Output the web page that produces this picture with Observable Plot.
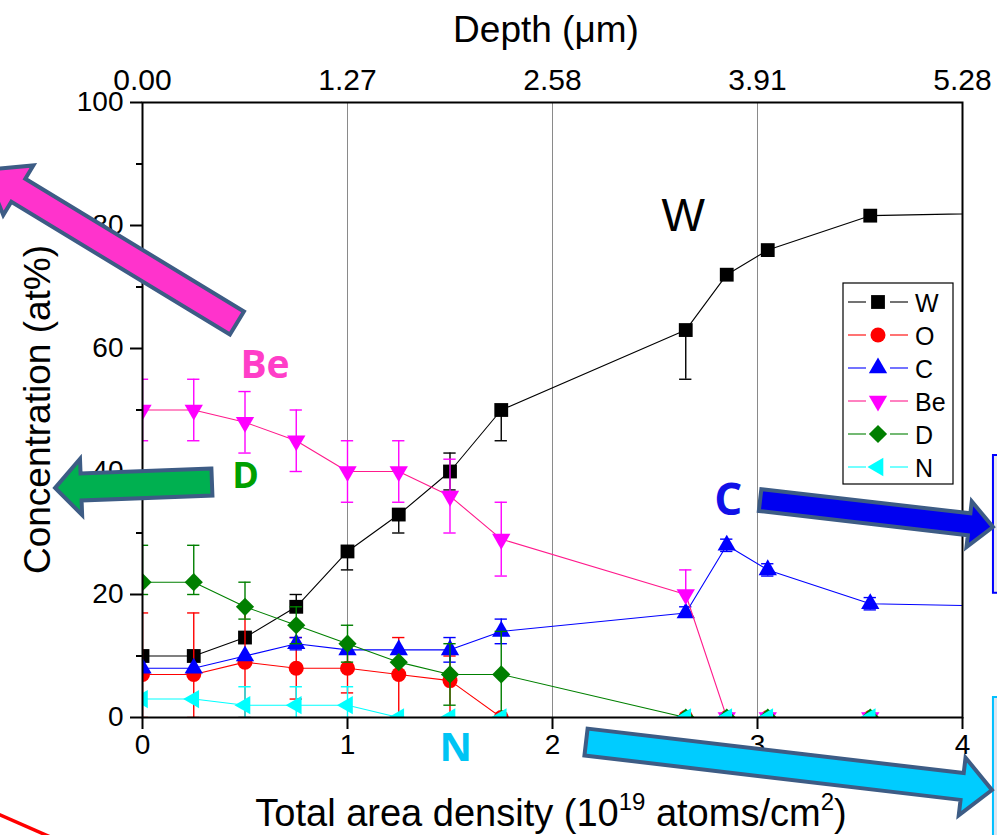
<!DOCTYPE html>
<html>
<head>
<meta charset="utf-8">
<script src="https://cdn.jsdelivr.net/npm/d3@7"></script>
<script src="https://cdn.jsdelivr.net/npm/@observablehq/plot@0.6"></script>
<style>
  html, body { margin: 0; padding: 0; background: white; }
  #chart { position: relative; width: 997px; height: 835px; overflow: hidden; }
</style>
</head>
<body>
<div id="chart"></div>
<script>
// ---- data ----
const density = [0, 0.25, 0.5, 0.75, 1.0, 1.25, 1.5, 1.75, 2.65, 2.85, 3.05, 3.55, 4.5];
const W  = [10, 10, 13, 18, 27, 33, 40, 50, 63, 72, 76, 81.6, 82.2];
const O  = [7, 7, 9, 8, 8, 7, 6, 0, 0, 0, 0, 0, 0];
const C  = [8, 8, 10, 12, 11, 11, 11, 14, 17, 28, 24, 18.5, 17.9];
const Be = [50, 50, 48, 45, 40, 40, 36, 29, 20, 0, 0, 0, 0];
const D  = [22, 22, 18, 15, 12, 9, 7, 7, 0, 0, 0, 0, 0];
const N  = [3, 3, 2, 2, 2, 0, 0, 0, 0, 0, 0, 0, 0];

// error bar ends (null = no bar on that side)
const W_lo  = [null, null, null, null, 24, 30, 37, 45, 55, null, null, null, null];
const W_hi  = [null, null, null, 20, null, null, 43, null, null, null, null, null, null];
const O_lo  = [0, 0, 0, 3, 4, 0, 0, null, null, null, null, null, null];
const O_hi  = [17, 17, 18, 13, 12, 13, 10, null, null, null, null, null, null];
const C_lo  = [null, null, null, 11, null, null, 9, 12, null, 27, 23, 17.5, null];
const C_hi  = [null, null, null, 13, null, null, 13, 16, 18, 29, 25, 19.5, null];
const Be_lo = [45, 45, 43, 40, 35, 35, 30, 23, null, null, null, null, null];
const Be_hi = [55, 55, 53, 50, 45, 45, 42, 35, 24, null, null, null, null];
const D_lo  = [20, 20, 16, 12, 9, null, 2, 0, null, null, null, null, null];
const D_hi  = [28, 28, 22, 18, 15, null, 12, 14, null, null, null, null, null];
const N_lo  = [null, null, 0, 0, 0, null, null, null, null, null, null, null, null];
const N_hi  = [null, null, 5, 5, 5, null, null, null, null, null, null, null, null];

const seriesNames = ["W", "O", "C", "Be", "D", "N"];
const seriesValues = [W, O, C, Be, D, N];
const seriesLo = [W_lo, O_lo, C_lo, Be_lo, D_lo, N_lo];
const seriesHi = [W_hi, O_hi, C_hi, Be_hi, D_hi, N_hi];
const lineColors   = ["#000000", "#FF0000", "#0000FF", "#FF1A8C", "#008000", "#00FFFF"];
const markerColors = ["#000000", "#FF0000", "#0000FF", "#FF00FF", "#007F00", "#00FFFF"];
const symbols  = ["square", "circle", "triangle", "triangle", "diamond2", "triangle"];
const rotates  = [0, 0, 0, 180, 0, -90];
const radii    = [7.8, 7.5, 6.8, 6.8, 8.2, 6.8];

const xTicks = [0, 1, 2, 3, 4];
const depthLabels = ["0.00", "1.27", "2.58", "3.91", "5.28"];
const yTicks = [0, 20, 40, 60, 80, 100];
const yMinor = [10, 30, 50, 70, 90];
const gridLines = [1, 2, 3];

// annotations (data units)
const annotLabels = [
  {text: "W",  x: 2.64, y: 81.6, color: "#000000", size: 46, weight: 400, family: "Liberation Sans, Arial, sans-serif"},
  {text: "Be", x: 0.60, y: 57.6, color: "#FF3EC8", size: 39, weight: 700, family: "Open Sans, sans-serif"},
  {text: "D",  x: 0.505, y: 39.4, color: "#00A000", size: 36, weight: 700, family: "Open Sans, sans-serif"},
  {text: "C",  x: 2.86, y: 35.6, color: "#1010E8", size: 44, weight: 700, family: "Open Sans, sans-serif"},
  {text: "N",  x: 1.53, y: -4.6, color: "#00C4F4", size: 40, weight: 700, family: "Open Sans, sans-serif"}
];
const arrows = [
  {x1: 0.463, y1: 64.07, x2: -0.766, y2: 88.94, w: 13.5, hw: 29, hl: 39, fill: "#FF33CC"},
  {x1: 0.341, y1: 38.21, x2: -0.424, y2: 37.24, w: 13.5, hw: 28, hl: 26, fill: "#00B050"},
  {x1: 3.015, y1: 35.28, x2: 4.151, y2: 30.89, w: 11, hw: 23, hl: 24, fill: "#0000F0"},
  {x1: 2.166, y1: -4.07, x2: 4.146, y2: -11.87, w: 13.5, hw: 29, hl: 30, fill: "#00CCFF"}
];
const boxes = [
  {x1: 4.151, x2: 4.4, y1: 42.6, y2: 20.2, stroke: "#0000FF", fill: "#E8E8EC"},
  {x1: 4.151, x2: 4.4, y1: 3.25, y2: -25, stroke: "#00C0FF", fill: "#DDE6F2"}
];
const redLine = [{x: -0.72, y: -15.5}, {x: -0.40, y: -20.2}];

// ---- build tidy rows ----
const rows = [];
const errs = [];
seriesNames.forEach((name, s) => {
  density.forEach((x, i) => {
    const v = seriesValues[s][i];
    if (v == null) return;
    rows.push({series: name, s, x, y: v});
    const lo = seriesLo[s][i], hi = seriesHi[s][i];
    if (lo != null || hi != null) {
      errs.push({series: name, s, x, lo: lo ?? v, hi: hi ?? v, hasLo: lo != null, hasHi: hi != null});
    }
  });
});

const capHalf = 0.03;
const FONT = "Liberation Sans, Arial, sans-serif";
const marks = [
  Plot.gridX(gridLines, {stroke: "#8a8a8a", strokeOpacity: 1, strokeWidth: 1})
];
seriesNames.forEach((name, s) => {
  const d = rows.filter(r => r.s === s);
  const e = errs.filter(r => r.s === s);
  marks.push(
    Plot.line(d, {x: "x", y: "y", stroke: lineColors[s], strokeWidth: 1.1, clip: true}),
    Plot.ruleX(e, {x: "x", y1: "lo", y2: "hi", stroke: markerColors[s], strokeWidth: 1.4, clip: true}),
    Plot.ruleY(e.filter(r => r.hasLo), {y: "lo", x1: r => r.x - capHalf, x2: r => r.x + capHalf, stroke: markerColors[s], strokeWidth: 1.4, clip: true}),
    Plot.ruleY(e.filter(r => r.hasHi), {y: "hi", x1: r => r.x - capHalf, x2: r => r.x + capHalf, stroke: markerColors[s], strokeWidth: 1.4, clip: true}),
    Plot.dot(d, {x: "x", y: "y", symbol: symbols[s], fill: markerColors[s], r: radii[s], rotate: rotates[s], stroke: "none", clip: true})
  );
});
marks.push(
  Plot.frame({stroke: "black", strokeWidth: 2}),
  Plot.axisX({anchor: "bottom", ticks: xTicks, tickFormat: d => String(d), tickSize: 12, tickPadding: 5, label: null, strokeWidth: 2, fontSize: 28}),
  Plot.axisX({anchor: "top", ticks: xTicks, tickFormat: d => depthLabels[d], tickSize: 0, tickPadding: 13, label: null, fontSize: 30}),
  Plot.axisY({anchor: "left", ticks: yTicks, tickSize: 12, tickPadding: 7, label: null, strokeWidth: 2, fontSize: 28}),
  Plot.axisY({anchor: "left", ticks: yMinor, tickSize: 6, tickFormat: () => "", label: null, strokeWidth: 2})
);

const plot = Plot.plot({
  width: 997,
  height: 835,
  marginLeft: 142,
  marginRight: 35,
  marginTop: 102,
  marginBottom: 118,
  x: {domain: [0, 4]},
  y: {domain: [0, 100]},
  style: {fontFamily: FONT, fontSize: "28px", color: "black", background: "white", overflow: "visible"},
  marks
});
document.getElementById("chart").appendChild(plot);

// ---- overlays using the plot's scales ----
const sx = plot.scale("x"), sy = plot.scale("y");
const X = v => sx.apply(v), Y = v => sy.apply(v);
const svg = d3.select(plot);

// axis titles
svg.append("text")
  .attr("transform", `translate(37,${(Y(0) + Y(100)) / 2}) rotate(-90)`)
  .attr("text-anchor", "middle").attr("dominant-baseline", "central")
  .attr("font-family", FONT).attr("font-size", 37).attr("fill", "black")
  .text("Concentration (at%)");

svg.append("text")
  .attr("x", 546).attr("y", 42)
  .attr("text-anchor", "middle")
  .attr("font-family", FONT).attr("font-size", 37).attr("fill", "black")
  .text("Depth (μm)");

const xt = svg.append("text")
  .attr("x", 551).attr("y", 826)
  .attr("text-anchor", "middle")
  .attr("font-family", FONT).attr("font-size", 38).attr("fill", "black");
xt.append("tspan").text("Total area density (10");
xt.append("tspan").attr("font-size", 24).attr("dy", -16).text("19");
xt.append("tspan").attr("dy", 16).text(" atoms/cm");
xt.append("tspan").attr("font-size", 24).attr("dy", -16).text("2");
xt.append("tspan").attr("dy", 16).text(")");

// legend
const lg = svg.append("g");
const lgX = 843, lgY = 283, lgW = 110, lgH = 201, rowH = 33;
lg.append("rect").attr("x", lgX).attr("y", lgY).attr("width", lgW).attr("height", lgH)
  .attr("fill", "white").attr("stroke", "black").attr("stroke-width", 1.2);
const symMap = {square: d3.symbolSquare, circle: d3.symbolCircle, triangle: d3.symbolTriangle, diamond2: d3.symbolDiamond2};
seriesNames.forEach((name, s) => {
  const cy = lgY + 19 + s * rowH;
  const mx = lgX + 35;
  lg.append("line").attr("x1", lgX + 5).attr("x2", mx - 12).attr("y1", cy).attr("y2", cy)
    .attr("stroke", lineColors[s]).attr("stroke-width", 1.1);
  lg.append("line").attr("x1", mx + 12).attr("x2", lgX + 65).attr("y1", cy).attr("y2", cy)
    .attr("stroke", lineColors[s]).attr("stroke-width", 1.1);
  lg.append("path")
    .attr("d", d3.symbol(symMap[symbols[s]], Math.PI * radii[s] * radii[s])())
    .attr("transform", `translate(${mx},${cy}) rotate(${rotates[s]})`)
    .attr("fill", markerColors[s]);
  lg.append("text").attr("x", lgX + 72).attr("y", cy + 1).attr("dominant-baseline", "central")
    .attr("text-anchor", "start").attr("font-family", FONT)
    .attr("font-size", 25).attr("fill", "black").text(name);
});

// annotation labels
annotLabels.forEach(a => {
  svg.append("text").attr("x", X(a.x)).attr("y", Y(a.y))
    .attr("text-anchor", "middle").attr("dominant-baseline", "central")
    .attr("font-family", a.family).attr("font-weight", a.weight)
    .attr("font-size", a.size).attr("fill", a.color).text(a.text);
});

// boxes at right edge
boxes.forEach(b => {
  svg.append("rect").attr("x", X(b.x1)).attr("y", Y(b.y1))
    .attr("width", X(b.x2) - X(b.x1)).attr("height", Y(b.y2) - Y(b.y1))
    .attr("fill", b.fill).attr("stroke", b.stroke).attr("stroke-width", 2);
});

// arrows
arrows.forEach(a => {
  const tx = X(a.x1), ty = Y(a.y1), px = X(a.x2), py = Y(a.y2);
  const L = Math.hypot(px - tx, py - ty);
  const ux = (px - tx) / L, uy = (py - ty) / L;
  const nx = -uy, ny = ux;
  const bx = px - ux * a.hl, by = py - uy * a.hl;
  const pts = [
    [tx + nx * a.w, ty + ny * a.w],
    [bx + nx * a.w, by + ny * a.w],
    [bx + nx * a.hw, by + ny * a.hw],
    [px, py],
    [bx - nx * a.hw, by - ny * a.hw],
    [bx - nx * a.w, by - ny * a.w],
    [tx - nx * a.w, ty - ny * a.w]
  ];
  svg.append("path").attr("d", "M" + pts.map(p => p.join(",")).join("L") + "Z")
    .attr("fill", a.fill).attr("stroke", "#3D5C85").attr("stroke-width", 4).attr("stroke-linejoin", "miter");
});

// red line at bottom-left
svg.append("path")
  .attr("d", d3.line().x(d => X(d.x)).y(d => Y(d.y))(redLine))
  .attr("stroke", "#FF0000").attr("stroke-width", 3.5).attr("fill", "none");
</script>
</body>
</html>
